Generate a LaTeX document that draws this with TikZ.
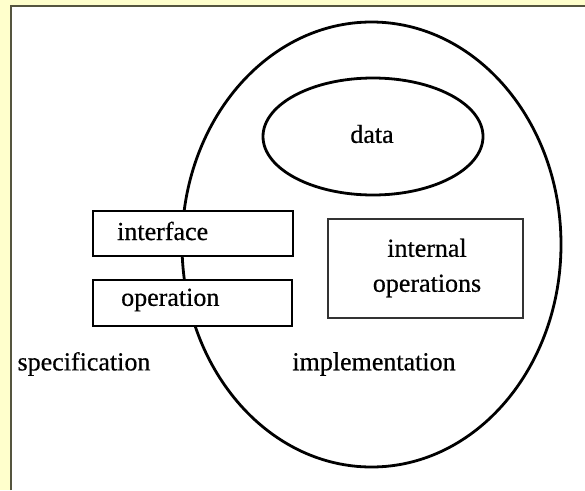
\documentclass[tikz,border=0pt]{standalone}
\usepackage{fontspec}
\setmainfont{Liberation Serif}[FakeBold=0.5]
\usetikzlibrary{shapes.geometric}
\definecolor{bgyellow}{HTML}{FFFFCC}
\definecolor{edgegray}{HTML}{55553F}
\tikzset{
  lbl/.style={inner sep=0pt, font=\fontsize{26}{29}\selectfont},
  specbox/.style={draw=black, line width=2.6pt, fill=white, rectangle, inner sep=0pt},
  innerbox/.style={draw=black!80, line width=1.5pt, fill=white, rectangle, inner sep=0pt},
  oval/.style={draw=black, line width=2.8pt, ellipse, inner sep=0pt}
}
\begin{document}
\begin{tikzpicture}[x=1pt,y=-1pt]
\useasboundingbox (0,0) rectangle (585,490);
\fill[bgyellow] (0,0) rectangle (585,490);
\fill[white] (10,5) rectangle (585,490);
\draw[edgegray, line width=2pt] (11,490) -- (11,6) -- (585,6);
% big ellipse
\node[oval, minimum width=379pt, minimum height=445pt] (impl) at (371.5,244.5) {};
% data ellipse
\node[oval, minimum width=220pt, minimum height=117pt] (data) at (373,136.5) {};
\node[lbl] (datatxt) at (372,134) {data};
% interface and operation boxes
\node[specbox, minimum width=200pt, minimum height=45pt] (iface) at (193,233.5) {};
\node[lbl, anchor=west] (ifacetxt) at (117,231) {interface};
\node[specbox, minimum width=199pt, minimum height=46pt] (oper) at (192.5,303) {};
\node[lbl, anchor=west] (opertxt) at (121,300) {operation};
% internal operations
\node[innerbox, minimum width=195pt, minimum height=99pt] (intops) at (425.5,268.5) {};
\node[lbl, align=center, font=\fontsize{26}{35}\selectfont] (intopstxt) at (427,268) {internal\\operations};
% labels
\node[lbl] (spec) at (84,364) {specification};
\node[lbl] (impltxt) at (374,364) {implementation};
\end{tikzpicture}
\end{document}
